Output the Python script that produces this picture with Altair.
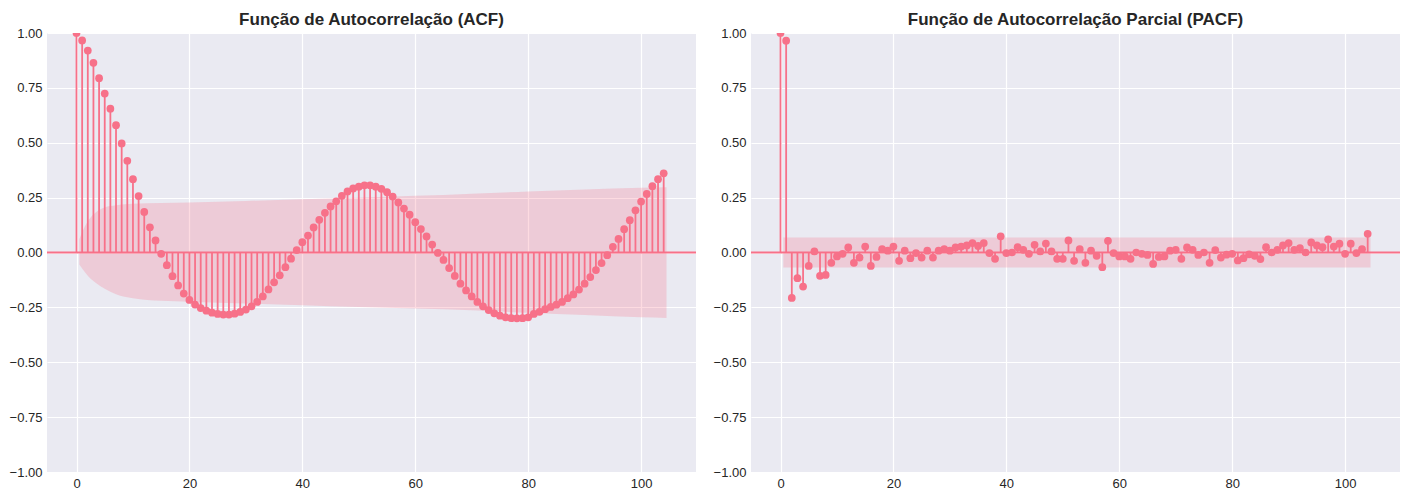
import altair as alt
import pandas as pd

lags = list(range(105))

acf_vals = [
    1.0, 0.966, 0.92, 0.864, 0.794, 0.724, 0.655, 0.58, 0.497, 0.418,
    0.334, 0.257, 0.185, 0.115, 0.055, -0.006, -0.058, -0.108, -0.15, -0.187,
    -0.216, -0.237, -0.253, -0.265, -0.274, -0.28, -0.283, -0.283, -0.279, -0.271,
    -0.26, -0.245, -0.225, -0.2, -0.168, -0.136, -0.104, -0.067, -0.028, 0.011,
    0.047, 0.077, 0.114, 0.149, 0.181, 0.21, 0.233, 0.258, 0.278, 0.292,
    0.3, 0.306, 0.306, 0.3, 0.29, 0.275, 0.255, 0.228, 0.2, 0.172,
    0.138, 0.107, 0.073, 0.036, -0.002, -0.034, -0.071, -0.107, -0.142, -0.173,
    -0.2, -0.225, -0.245, -0.262, -0.277, -0.288, -0.295, -0.299, -0.3, -0.299,
    -0.295, -0.28, -0.27, -0.258, -0.248, -0.238, -0.225, -0.208, -0.191, -0.169,
    -0.142, -0.112, -0.08, -0.048, -0.012, 0.026, 0.062, 0.106, 0.147, 0.192,
    0.232, 0.267, 0.302, 0.334, 0.361,
]

pacf_vals = [
    1.0, 0.965, -0.207, -0.117, -0.155, -0.061, 0.005, -0.106, -0.102, -0.047,
    -0.018, -0.006, 0.023, -0.047, -0.023, 0.027, -0.061, -0.02, 0.015, 0.008,
    0.027, -0.038, 0.008, -0.026, -0.003, -0.023, 0.008, -0.023, 0.008, 0.015,
    0.008, 0.023, 0.027, 0.032, 0.043, 0.03, 0.043, -0.003, -0.029, 0.074,
    -0.003, 0.0, 0.024, 0.012, -0.006, 0.035, 0.005, 0.041, 0.005, -0.029,
    -0.029, 0.055, -0.038, 0.015, -0.047, 0.008, -0.015, -0.067, 0.053, -0.003,
    -0.018, -0.018, -0.029, 0.0, -0.006, -0.011, -0.052, -0.02, -0.018, 0.008,
    0.012, -0.029, 0.023, 0.012, -0.011, 0.0, -0.047, 0.011, -0.023, -0.01,
    -0.006, -0.036, -0.026, -0.008, -0.015, -0.03, 0.024, 0.0, 0.012, 0.032,
    0.043, 0.012, 0.02, 0.0, 0.046, 0.032, 0.024, 0.06, 0.027, 0.04,
    -0.006, 0.04, -0.003, 0.015, 0.085,
]

acf_band_lag = [0.5, 1.5, 2.5, 3.5, 5, 7, 10, 15, 20, 30, 40, 50, 60, 70, 80, 90, 100, 104.5]
acf_band_upper = [0.06, 0.12, 0.16, 0.185, 0.205, 0.215, 0.222, 0.226, 0.228, 0.235, 0.243,
                  0.25, 0.258, 0.268, 0.278, 0.287, 0.295, 0.297]
acf_band_lower = [-0.055, -0.09, -0.12, -0.14, -0.165, -0.19, -0.208, -0.22, -0.224, -0.232,
                  -0.24, -0.248, -0.255, -0.263, -0.275, -0.285, -0.295, -0.298]

pacf_band_lag = [0.5, 104.5]
pacf_band_upper = [0.068, 0.068]
pacf_band_lower = [-0.068, -0.068]

x_ticks = [0, 20, 40, 60, 80, 100]
y_ticks = [-1.0, -0.75, -0.5, -0.25, 0.0, 0.25, 0.5, 0.75, 1.0]

COLOR = "#f77189"
FONT = "Liberation Sans"

x_scale = alt.Scale(domain=[-5.225, 109.725], nice=False, zero=False)
y_scale = alt.Scale(domain=[-1, 1], nice=False, zero=False)
x_axis = alt.Axis(values=x_ticks, format="d", title=None)
y_axis = alt.Axis(values=y_ticks, format=".2f", title=None)


def X(field):
    return alt.X(field, type="quantitative", scale=x_scale, axis=x_axis)


def Y(field):
    return alt.Y(field, type="quantitative", scale=y_scale, axis=y_axis)


def panel(values, bl, bu, blo, title):
    df = pd.DataFrame({"lag": lags, "value": values, "zero": [0.0] * len(lags)})
    band = pd.DataFrame({"lag": bl, "upper": bu, "lower": blo})
    zero_df = pd.DataFrame({"z": [0.0]})

    area = alt.Chart(band).mark_area(
        color=COLOR, opacity=0.25, interpolate="monotone", clip=True
    ).encode(x=X("lag"), y=Y("upper"), y2="lower:Q")

    zero = alt.Chart(zero_df).mark_rule(color=COLOR, strokeWidth=1.8).encode(y=Y("z"))

    stems = alt.Chart(df).mark_rule(color=COLOR, strokeWidth=1.8, clip=True).encode(
        x=X("lag"), y=Y("value"), y2="zero:Q"
    )

    points = alt.Chart(df).mark_circle(color=COLOR, size=60, opacity=1, clip=True).encode(
        x=X("lag"), y=Y("value")
    )

    return alt.layer(area, zero, stems, points).properties(
        width=649,
        height=439,
        title=alt.TitleParams(
            title, fontSize=17, fontWeight="bold", font=FONT, color="#262626",
            anchor="middle", offset=-2,
        ),
    )


acf_panel = panel(acf_vals, acf_band_lag, acf_band_upper, acf_band_lower,
                  "Função de Autocorrelação (ACF)")
pacf_panel = panel(pacf_vals, pacf_band_lag, pacf_band_upper, pacf_band_lower,
                   "Função de Autocorrelação Parcial (PACF)")

chart = alt.hconcat(acf_panel, pacf_panel, spacing=16).properties(
    padding={"left": 9, "top": 11, "right": 5, "bottom": 0},
    background="white",
).configure_view(
    fill="#EAEAF2", stroke=None
).configure_axis(
    grid=True, gridColor="white", gridWidth=1.2, domain=False, ticks=False,
    labelFont=FONT, labelFontSize=13, labelColor="#262626", labelPadding=5,
)

chart.save("out.html", embed_options={"renderer": "svg", "actions": False})
